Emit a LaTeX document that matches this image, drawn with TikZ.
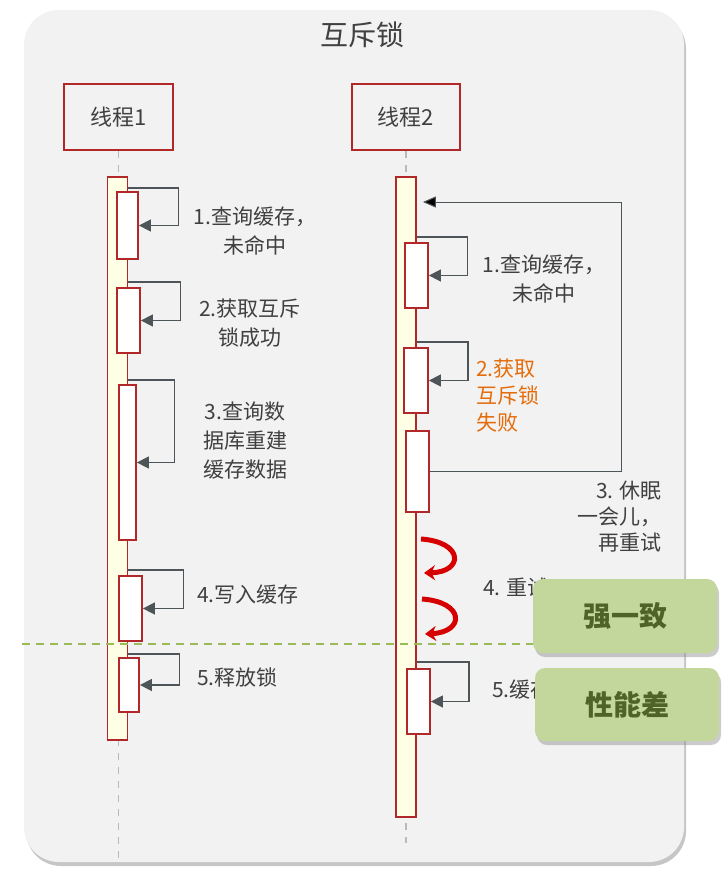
\documentclass[tikz,border=0pt]{standalone}
\usepackage{fontspec}
\setmainfont{Noto Sans CJK SC}
\usetikzlibrary{arrows.meta,shadows}
\definecolor{panelgray}{RGB}{242,242,242}
\definecolor{lockred}{RGB}{178,40,40}
\definecolor{barfill}{RGB}{255,255,229}
\definecolor{callgray}{RGB}{77,85,88}
\definecolor{txtgray}{RGB}{64,64,64}
\definecolor{failorange}{RGB}{228,108,10}
\definecolor{lineolive}{RGB}{155,187,89}
\definecolor{tagfill}{RGB}{195,214,155}
\definecolor{tagtext}{RGB}{79,98,40}
\definecolor{retryred}{RGB}{215,0,0}

\tikzset{
  thread/.style={draw=lockred, line width=1.8pt, minimum width=109pt, minimum height=66pt, inner sep=0pt, text=txtgray, font=\fontsize{22}{26}\selectfont},
  bar/.style={draw=lockred, line width=1.8pt, fill=barfill, inner sep=0pt, minimum width=20pt},
  act/.style={draw=lockred, line width=1.8pt, fill=white, inner sep=0pt},
  life/.style={draw=gray!55, line width=1.8pt, dash pattern=on 7pt off 7pt},
  call/.style={draw=callgray, line width=1.5pt, -{Triangle[length=12pt,width=12pt]}},
  ret/.style={draw=callgray, line width=1pt, -{Triangle[length=13pt,width=11pt,fill=black]}},
  retry/.style={draw=retryred, line width=5pt, -{Stealth[length=11pt,width=15pt]}},
  lbl/.style={text=txtgray, font=\fontsize{21}{29}\selectfont, align=center, inner sep=0pt},
  tag/.style={fill=tagfill, rounded corners=10pt, minimum width=184pt, minimum height=74pt, text=tagtext, font=\fontsize{28}{30}\selectfont\bfseries, drop shadow={opacity=0.4, shadow xshift=2pt, shadow yshift=-4pt}}
}

\begin{document}
\begin{tikzpicture}[x=1pt, y=-1pt]
  \useasboundingbox (0,0) rectangle (726,883);
  % panel
  \fill[panelgray, rounded corners=35pt, drop shadow={opacity=0.45, shadow xshift=2pt, shadow yshift=-4pt}] (24,10) rectangle (684,862);
  \node[text=txtgray, font=\fontsize{28}{30}\selectfont] (title) at (362,35) {互斥锁};

  % threads
  \node[thread] (th1) at (118.5,117) {线程1};
  \node[thread, minimum width=108pt] (th2) at (406,117) {线程2};
  \draw[life] (th1.south) -- ++(0,707);
  \draw[life] (th2.south) -- ++(0,692);

  % lifeline bars
  \node[bar, minimum height=563pt] (bar1) at (117.5,458.5) {};
  \node[bar, minimum height=640pt] (bar2) at (406,497) {};

  % thread 1 activations
  \node[act, minimum width=21pt, minimum height=67pt] (t1a) at (127.5,225.5) {};
  \node[act, minimum width=23pt, minimum height=65pt] (t1b) at (128.5,320.5) {};
  \node[act, minimum width=17pt, minimum height=155pt] (t1c) at (127.5,462.5) {};
  \node[act, minimum width=23pt, minimum height=65pt] (t1d) at (130.5,608.5) {};
  \node[act, minimum width=20pt, minimum height=54pt] (t1e) at (129,685) {};

  % thread 2 activations
  \node[act, minimum width=23pt, minimum height=65pt] (t2a) at (416.5,275.5) {};
  \node[act, minimum width=24pt, minimum height=65pt] (t2b) at (416,380.5) {};
  \node[act, minimum width=23pt, minimum height=81pt] (t2c) at (417.5,471.5) {};
  \node[act, minimum width=23pt, minimum height=65pt] (t2e) at (418.5,701.5) {};

  % self calls, thread 1
  \draw[call] ([yshift=3pt]t1a.north -| bar1.east) -- ++(50,0) |- (t1a.east);
  \draw[call] ([yshift=5pt]t1b.north -| bar1.east) -- ++(52,0) |- (t1b.east);
  \draw[call] ([yshift=4pt]t1c.north) -- ++(47,0) |- (t1c.east);
  \draw[call] ([yshift=5pt]t1d.north -| bar1.east) -- ++(55,0) |- (t1d.east);
  \draw[call] ([yshift=3pt]t1e.north -| bar1.east) -- ++(51,0) |- (t1e.east);

  % self calls, thread 2
  \draw[call] ([yshift=5pt]t2a.north) -- ++(51,0) |- (t2a.east);
  \draw[call] ([yshift=5pt]t2b.north -| bar2.east) -- ++(51,0) |- (t2b.east);
  \draw[call] ([yshift=6pt]t2e.north -| bar2.east) -- ++(52,0) |- (t2e.east);

  % sleep and retry
  \coordinate (back) at (621,202);
  \draw[ret] (t2c.east) -| (back) -- ([xshift=6pt]bar2.east |- back);
  \coordinate (r1s) at (421,539);
  \coordinate (r1e) at (424,573);
  \coordinate (r2s) at (422,599);
  \coordinate (r2e) at (425,634);
  \draw[retry] (r1s) .. controls (464,542) and (464,572) .. (r1e);
  \draw[retry] (r2s) .. controls (465,602) and (465,632) .. (r2e);

  % labels
  \node[lbl] (l11) at (255,231) {1.查询缓存，\\ 未命中};
  \node[lbl] (l12) at (250,323) {2.获取互斥\\ 锁成功};
  \node[lbl] (l13) at (245,441) {3.查询数\\ 据库重建\\ 缓存数据};
  \node[lbl, anchor=west] (l14) at (197,595) {4.写入缓存};
  \node[lbl, anchor=west] (l15) at (197,677) {5.释放锁};
  \node[lbl] (l21) at (544,279) {1.查询缓存，\\ 未命中};
  \node[lbl, align=left, anchor=west, text=failorange, font=\fontsize{21}{27}\selectfont] (l22) at (476,396) {2.获取\\ 互斥锁\\ 失败};
  \node[lbl, align=right, anchor=east, font=\fontsize{21}{26}\selectfont] (l23) at (662,517) {3. 休眠\\ 一会儿，\\ 再重试};
  \node[lbl, anchor=west] (l24) at (483,588) {4. 重试};
  \node[lbl, anchor=west] (l25) at (492,690) {5.缓存};

  % split line
  \coordinate (cutl) at (22,644);
  \coordinate (cutr) at (600,644);
  \draw[lineolive, line width=1.5pt, dash pattern=on 8pt off 6pt] (cutl) -- (cutr);

  % tags
  \node[tag] (strong) at (625,616) {强一致};
  \node[tag, minimum height=73pt] (perf) at (627,704.5) {性能差};
\end{tikzpicture}
\end{document}
